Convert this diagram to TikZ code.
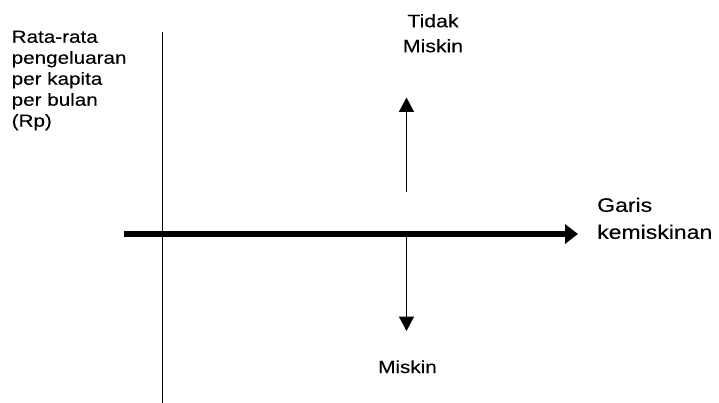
\documentclass[tikz,border=0pt]{standalone}
\usepackage{fontspec}
\setmainfont{Liberation Sans}[FakeStretch=1.18, FakeBold=0.15]
\usetikzlibrary{arrows.meta}

\tikzset{
  label text/.style={inner sep=0pt, align=left, text=black},
  axis line/.style={line width=1.2pt},
  limit line/.style={line width=6.5pt, -{Triangle[length=13pt,width=19pt]}},
  shift arrow/.style={line width=1.6pt, -{Triangle[length=14.5pt,width=15pt]}},
}

\begin{document}
\begin{tikzpicture}[x=1pt, y=-1pt]
  \useasboundingbox (0,0) rectangle (719,403);

  % vertical axis
  \coordinate (vtop) at (162.3,32.5);
  \coordinate (vbot) at (162.3,403);
  \draw[axis line] (vtop) -- (vbot);

  % poverty line
  \coordinate (lstart) at (124,234);
  \coordinate (lend) at (578,234);
  \draw[limit line] (lstart) -- (lend);

  % arrows away from the poverty line
  \coordinate (upfrom) at (406.5,192);
  \coordinate (upto) at (406.5,97.5);
  \draw[shift arrow] (upfrom) -- (upto);
  \coordinate (downfrom) at (406.5,234);
  \coordinate (downto) at (406.5,331);
  \draw[shift arrow] (downfrom) -- (downto);

  % labels
  \node[label text, anchor=north west,
        font=\fontsize{17.5}{21}\selectfont] (ylabel) at (11.5,30.5)
    {Rata-rata\\pengeluaran\\per kapita\\per bulan\\(Rp)};
  \node[label text, align=center, anchor=north,
        font=\fontsize{18}{25}\selectfont] (notpoor) at (433,14)
    {Tidak\\Miskin};
  \node[label text, anchor=base,
        font=\fontsize{17.5}{21}\selectfont] (poor) at (407.5,373)
    {Miskin};
  \node[label text, anchor=north west,
        font=\fontsize{19.5}{27}\selectfont] (linelabel) at (597,197.5)
    {Garis\\kemiskinan};
\end{tikzpicture}
\end{document}
